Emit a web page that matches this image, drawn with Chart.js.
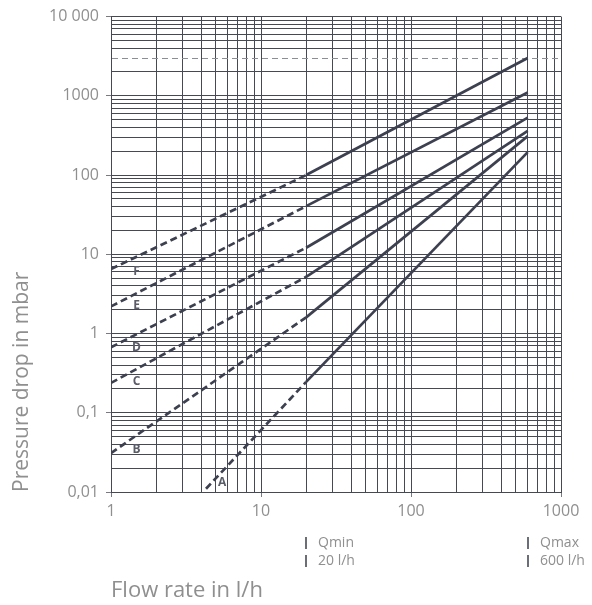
<!DOCTYPE html>
<html>
<head>
<meta charset="utf-8">
<script src="https://cdn.jsdelivr.net/npm/chart.js@4.4.1/dist/chart.umd.min.js"></script>
<style>
    html, body { margin: 0; padding: 0; background: #fff; }
    #wrap { width: 592px; height: 605px; position: relative; }
</style>
</head>
<body>
<div id="wrap"><canvas id="pressure-graph"></canvas></div>
<script>
// Curves A..F (pressure drop in mbar vs flow rate in l/h)
const curveNames = ['A', 'B', 'C', 'D', 'E', 'F'];
const flowA = [4.3, 20, 600];
const flowRate = [1, 20, 600];
const dropA = [0.011, 0.245, 195];
const dropB = [0.031, 1.6, 310];
const dropC = [0.238, 5.2, 360];
const dropD = [0.67, 12.1, 530];
const dropE = [2.2, 40.5, 1100];
const dropF = [6.5, 100, 3000];

// where the letters sit
const labelFlow = [5.5, 1.48, 1.48, 1.48, 1.48, 1.48];
const labelDrop = [0.013, 0.034, 0.25, 0.67, 2.25, 6.06];

// axes
const xDecades = [1, 10, 100, 1000];
const xTickLabels = ['1', '10', '100', '1000'];
const yDecades = [0.01, 0.1, 1, 10, 100, 1000, 10000];
const yTickLabels = ['0,01', '0,1', '1', '10', '100', '1000', '10 000'];

// Qmin / Qmax notes under the axis
const qMarks = [20, 600];
const qNames = ['Qmin', 'Qmax'];
const qRates = ['20 l/h', '600 l/h'];

const FONT = '"Open Sans", sans-serif';
const GRID = '#464955';
const LINE = '#3d404f';
const TEXT = '#8f8f8f';

function logGrid(decades) {
    const ticks = [];
    decades.forEach((d, i) => {
        if (i === decades.length - 1) {
            ticks.push({ value: d, major: true });
            return;
        }
        for (let m = 1; m < 10; m++) {
            ticks.push({ value: +(d * m).toPrecision(6), major: m === 1 });
        }
    });
    return ticks;
}

function labelFor(decades, labels) {
    return (value) => {
        const i = decades.findIndex(d => Math.abs(d - value) / d < 1e-6);
        return i >= 0 ? labels[i] : '';
    };
}

function curve(name, flows, drops) {
    return {
        label: name,
        data: flows.map((q, i) => ({ x: q, y: drops[i] })),
        borderColor: LINE,
        borderWidth: 2.7,
        pointRadius: 0,
        fill: false,
        tension: 0,
        segment: {
            // dashed below Qmin, solid from Qmin to Qmax
            borderDash: ctx => ctx.p1.parsed.x <= qMarks[0] + 1e-6 ? [7, 4] : undefined
        }
    };
}

const drops = [dropA, dropB, dropC, dropD, dropE, dropF];

const marksPlugin = {
    id: 'marks',
    afterDraw(chart) {
        const { ctx, scales: { x, y } } = chart;
        ctx.save();

        // curve letters
        ctx.font = 'bold 12px ' + FONT;
        ctx.fillStyle = '#5a5d68';
        ctx.textAlign = 'center';
        ctx.textBaseline = 'middle';
        curveNames.forEach((n, i) => {
            ctx.fillText(n, x.getPixelForValue(labelFlow[i]), y.getPixelForValue(labelDrop[i]));
        });

        // Qmin / Qmax
        const base = y.bottom;
        ctx.font = '14px ' + FONT;
        ctx.textAlign = 'left';
        qMarks.forEach((q, i) => {
            const px = Math.round(x.getPixelForValue(q));
            ctx.strokeStyle = '#6b6e78';
            ctx.lineWidth = 2;
            [51, 69].forEach(dy => {
                ctx.beginPath();
                ctx.moveTo(px, base + dy - 6);
                ctx.lineTo(px, base + dy + 6);
                ctx.stroke();
            });
            ctx.fillStyle = TEXT;
            ctx.fillText(qNames[i], px + 12, base + 51);
            ctx.fillText(qRates[i], px + 12, base + 69);
        });
        ctx.restore();
    }
};

const canvas = document.querySelector('#pressure-graph');
const chartInstance = new Chart(canvas.getContext('2d'), {
    type: 'line',
    data: {
        datasets: curveNames.map((n, i) => curve(n, i === 0 ? flowA : flowRate, drops[i]))
    },
    options: {
        responsive: true,
        maintainAspectRatio: false,
        animation: false,
        layout: { padding: { top: 15, right: 31, left: 0, bottom: 0 } },
        plugins: {
            legend: { display: false },
            tooltip: { enabled: false }
        },
        scales: {
            x: {
                type: 'logarithmic',
                min: 1,
                max: 1000,
                afterBuildTicks: scale => { scale.ticks = logGrid(xDecades); },
                afterFit: scale => { scale.height = 113; },
                grid: {
                    color: GRID,
                    lineWidth: 1,
                    tickLength: 5,
                    tickColor: ctx => ctx.tick && ctx.tick.major ? '#777a84' : 'rgba(0,0,0,0)'
                },
                border: { color: GRID },
                ticks: {
                    autoSkip: false,
                    maxRotation: 0,
                    minRotation: 0,
                    padding: 5,
                    color: TEXT,
                    font: { family: FONT, size: 16 },
                    callback: labelFor(xDecades, xTickLabels)
                },
                title: {
                    display: true,
                    text: 'Flow rate in l/h',
                    align: 'start',
                    color: TEXT,
                    font: { family: FONT, size: 22 },
                    padding: { top: 0, bottom: 1 }
                }
            },
            y: {
                type: 'logarithmic',
                min: 0.01,
                max: 10000,
                afterBuildTicks: scale => { scale.ticks = logGrid(yDecades); },
                afterFit: scale => { scale.width = 111; },
                grid: {
                    color: ctx => ctx.tick && ctx.tick.value === 3000 ? '#8c8e97' : GRID,
                    lineWidth: 1,
                    tickLength: 5,
                    tickColor: ctx => ctx.tick && ctx.tick.major ? '#777a84' : 'rgba(0,0,0,0)'
                },
                border: {
                    color: GRID,
                    dash: ctx => ctx.tick && ctx.tick.value === 3000 ? [6, 4] : []
                },
                ticks: {
                    autoSkip: false,
                    padding: 7,
                    color: TEXT,
                    font: { family: FONT, size: 16 },
                    callback: labelFor(yDecades, yTickLabels)
                },
                title: {
                    display: true,
                    text: 'Pressure drop in mbar',
                    align: 'start',
                    color: TEXT,
                    font: { family: FONT, size: 21 },
                    padding: { top: 9, bottom: 0 }
                }
            }
        }
    },
    plugins: [marksPlugin]
});
</script>
</body>
</html>
